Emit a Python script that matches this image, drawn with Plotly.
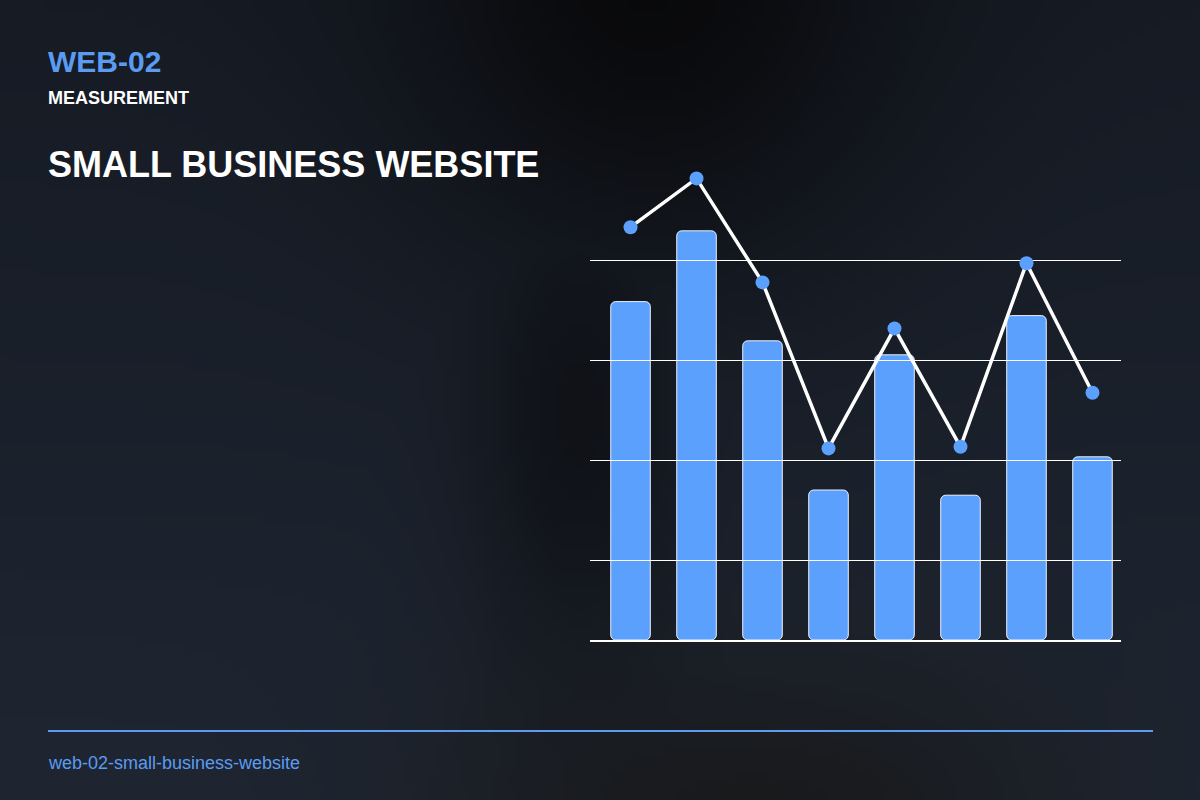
import base64
import struct
import zlib

import numpy as np
import plotly.graph_objects as go

# chart values
periods = [0, 1, 2, 3, 4, 5, 6, 7]
bar_values = [84.6, 102.3, 74.8, 37.5, 71.3, 36.2, 81.1, 45.8]
line_values = [103.2, 115.4, 89.4, 47.9, 77.9, 48.3, 94.2, 61.8]
grid_values = [20, 45, 70, 95]

BLUE = "#5ca0fd"
TEXT_BLUE = "#5b9cf2"
FONT = "Liberation Sans, Arial, sans-serif"


def png_data_uri(rgb):
    """encode an (h, w, 3) uint8 array as a png data uri"""
    h, w, _ = rgb.shape
    raw = b"".join(b"\x00" + rgb[row].tobytes() for row in range(h))

    def chunk(tag, data):
        body = tag + data
        return struct.pack(">I", len(data)) + body + struct.pack(">I", zlib.crc32(body) & 0xffffffff)

    png = b"\x89PNG\r\n\x1a\n"
    png += chunk(b"IHDR", struct.pack(">IIBBBBB", w, h, 8, 2, 0, 0, 0))
    png += chunk(b"IDAT", zlib.compress(raw, 9))
    png += chunk(b"IEND", b"")
    return "data:image/png;base64," + base64.b64encode(png).decode()


def background(w=150, h=100):
    xs = (np.arange(w) + 0.5) / w * 1200
    ys = (np.arange(h) + 0.5) / h * 800
    X, Y = np.meshgrid(xs, ys)
    t = (Y / 800)[..., None]
    top = np.array([22, 27, 36], float)
    bottom = np.array([31, 38, 50], float)
    col = top * (1 - t) + bottom * t
    dark = np.array([9, 9, 11], float)
    grey = np.array([24, 24, 24], float)
    w_top = 0.97 * np.exp(-((X - 650) / 250) ** 2 - ((Y + 40) / 300) ** 2)
    w_mid = 0.6 * np.exp(-((X - 580) / 110) ** 2 - ((Y - 430) / 260) ** 2)
    w_dark = np.maximum(w_top, w_mid)[..., None]
    col = col * (1 - w_dark) + dark * w_dark
    w_bot = (0.85 * np.exp(-((X - 760) / 320) ** 2 - ((Y - 830) / 170) ** 2))[..., None]
    col = col * (1 - w_bot) + grey * w_bot
    return np.clip(col, 0, 255).astype(np.uint8)


n = len(periods)
x_range = [-0.614, 7.432]
y_range = [0, 120]
x_dom = [590 / 1200, 1121 / 1200]
y_dom = [0.2, 0.8]

fig = go.Figure()

# explicit base so plotly rounds both ends of each bar
fig.add_trace(go.Bar(x=periods, y=bar_values, base=[0] * n, width=0.6,
                     marker=dict(color=BLUE, cornerradius=5,
                                 line=dict(color="rgba(255,255,255,0.9)", width=1))))

# line lives on a second subplot stacked on top, so its grid is drawn over the bars
fig.add_trace(go.Scatter(x=periods, y=line_values, mode="lines+markers",
                         xaxis="x2", yaxis="y2",
                         line=dict(color="white", width=3.5),
                         marker=dict(color=BLUE, size=14)))

hidden = dict(zeroline=False, showticklabels=False, ticks="")
fig.update_layout(
    width=1200, height=800,
    margin=dict(l=0, r=0, t=0, b=0),
    paper_bgcolor="#1b222e",
    plot_bgcolor="rgba(0,0,0,0)",
    showlegend=False,
    font=dict(family=FONT, color="white"),
    xaxis=dict(domain=x_dom, range=x_range, anchor="y", showgrid=False, **hidden),
    yaxis=dict(domain=y_dom, range=y_range, anchor="x", showgrid=False, **hidden),
    xaxis2=dict(domain=x_dom, range=x_range, anchor="y2", showgrid=False,
                showline=True, linecolor="white", linewidth=1.5, **hidden),
    yaxis2=dict(domain=y_dom, range=y_range, anchor="x2", tickvals=grid_values,
                showgrid=True, gridcolor="white", gridwidth=1, **hidden),
    images=[dict(source=png_data_uri(background()), xref="paper", yref="paper",
                 x=0, y=1, sizex=1, sizey=1, sizing="stretch", layer="below")],
    shapes=[dict(type="line", xref="paper", yref="paper",
                 x0=48 / 1200, x1=1153 / 1200, y0=1 - 731 / 800, y1=1 - 731 / 800,
                 line=dict(color=TEXT_BLUE, width=2))],
)

labels = [
    ("WEB-02", 61.8, 30, TEXT_BLUE, True),
    ("MEASUREMENT", 98.3, 18, "white", True),
    ("SMALL BUSINESS WEBSITE", 164.2, 36, "white", True),
    ("web-02-small-business-website", 763, 18, TEXT_BLUE, False),
]
for text, ypx, size, color, bold in labels:
    fig.add_annotation(text="<b>%s</b>" % text if bold else text,
                       xref="paper", yref="paper", x=46 / 1200, y=1 - ypx / 800,
                       xanchor="left", yanchor="middle", showarrow=False,
                       font=dict(size=size, color=color, family=FONT))

fig.write_html("out.html", config={"displayModeBar": False},
               post_script="document.body.style.margin = '0';")
